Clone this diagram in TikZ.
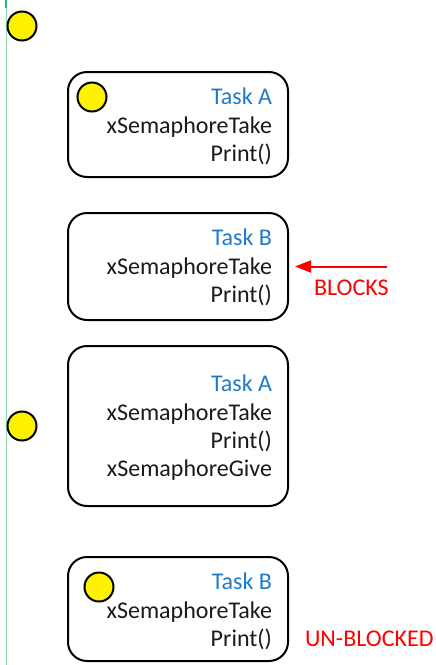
\documentclass[tikz,border=0pt]{standalone}
\usepackage{fontspec}
\setmainfont{Carlito}
\usetikzlibrary{arrows.meta}
\definecolor{taskblue}{HTML}{1F7AC8}
\definecolor{txt}{HTML}{1A1A1A}
\definecolor{guide}{HTML}{8FD9AE}
\definecolor{guidetop}{HTML}{2EB872}
\begin{document}
\begin{tikzpicture}[x=1pt,y=-1pt,
  every node/.style={font=\fontsize{24}{28}\selectfont, inner sep=0pt, outer sep=0pt},
  taskbox/.style={draw=black, line width=2pt, rounded corners=19pt},
  token/.style={circle, draw=black, line width=2pt, fill=yellow, minimum size=29pt},
  tasklabel/.style={anchor=base east, text=taskblue},
  codeline/.style={anchor=base east, text=txt},
  redlabel/.style={anchor=base west, text=red}
]
\useasboundingbox (0,0) rectangle (436,665);
% guide line
\coordinate (g1) at (6,0);
\coordinate (g2) at (6,665);
\coordinate (g3) at (6,8);
\draw[guide, line width=1pt] (g1) -- (g2);
\draw[guidetop, line width=1.2pt] (g1) -- (g3);

% free token
\node[token] (t0) at (22,26) {};

% Box 1
\draw[taskbox] (68,72) rectangle (288,177);
\node[token] (t1) at (92,97) {};
\node[tasklabel] (a1) at (272,104.5) {Task A};
\node[codeline] (a2) at (272,133) {xSemaphoreTake};
\node[codeline] (a3) at (272,161.5) {Print()};

% Box 2
\draw[taskbox] (68,213) rectangle (288,320);
\node[tasklabel] (b1) at (272,245.5) {Task B};
\node[codeline] (b2) at (272,274) {xSemaphoreTake};
\node[codeline] (b3) at (272,302.5) {Print()};
\coordinate (arrS) at (387,266.5);
\coordinate (arrE) at (295,266.5);
\draw[red, line width=2pt, -{Triangle[length=16pt,width=12pt]}] (arrS) -- (arrE);
\node[redlabel] (blk) at (314,295) {BLOCKS};

% Box 3
\draw[taskbox] (68,346) rectangle (288,506);
\node[token] (t2) at (22,426) {};
\node[tasklabel] (c1) at (272,391.5) {Task A};
\node[codeline] (c2) at (272,420) {xSemaphoreTake};
\node[codeline] (c3) at (272,448) {Print()};
\node[codeline] (c4) at (272,476.5) {xSemaphoreGive};

% Box 4
\draw[taskbox] (68,557) rectangle (288,661);
\node[token] (t3) at (99,587) {};
\node[tasklabel] (d1) at (272,589) {Task B};
\node[codeline] (d2) at (272,618) {xSemaphoreTake};
\node[codeline] (d3) at (272,646.5) {Print()};
\node[redlabel] (ub) at (305,646.5) {UN-BLOCKED};
\end{tikzpicture}
\end{document}
